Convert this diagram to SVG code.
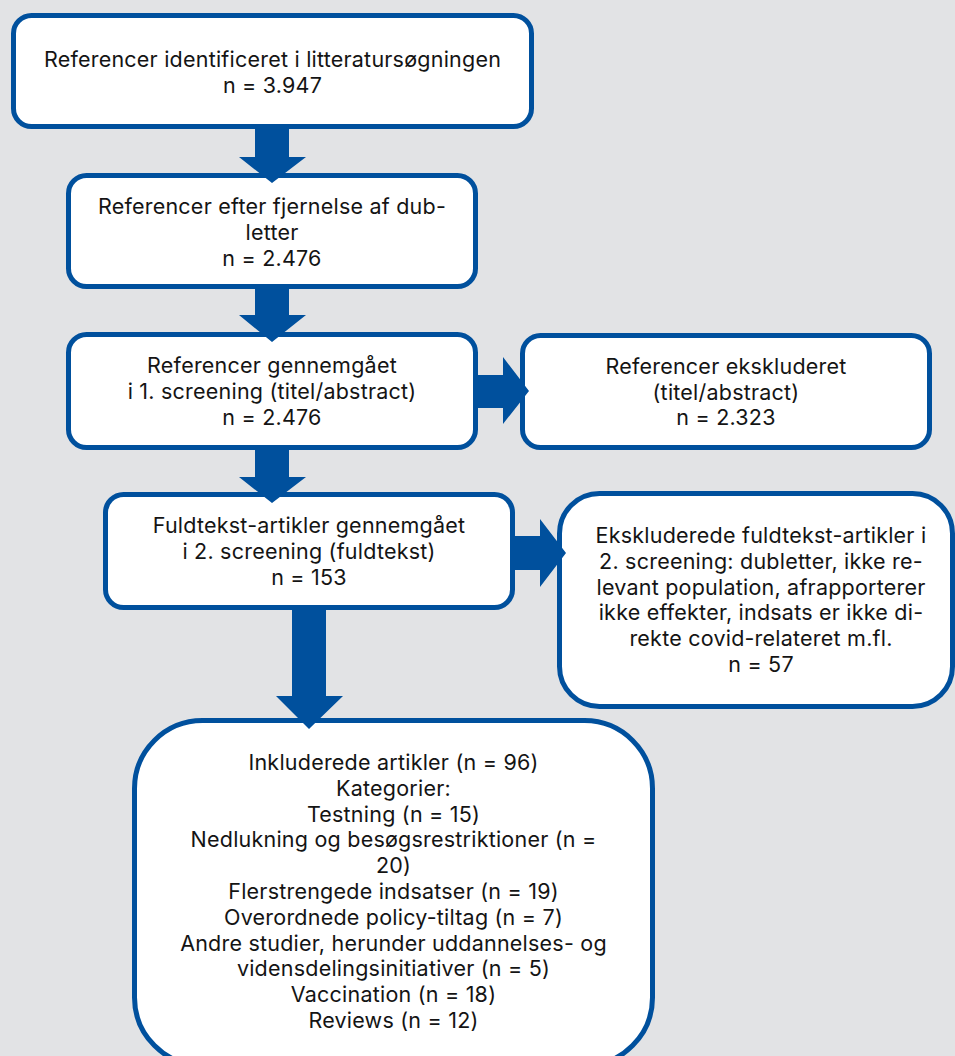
<svg xmlns="http://www.w3.org/2000/svg" width="955" height="1056" viewBox="0 0 955 1056">
<style>
.box{fill:#ffffff;stroke:#00509d;stroke-width:5}
.arr{fill:#00509d}
text{font-family:Inter,"Liberation Sans",Arial,sans-serif;font-size:21.5px;letter-spacing:0.22px;fill:#141414;text-anchor:middle}
</style>
<rect x="0" y="0" width="955" height="1056" fill="#e2e3e5"/>
<g id="n1">
<rect class="box" x="13.5" y="15.5" width="518" height="111" rx="18"/>
<text x="272.5" y="67">Referencer identificeret i litteratursøgningen</text>
<text x="272.5" y="93">n = 3.947</text>
</g>
<g id="n2">
<rect class="box" x="68.5" y="175.5" width="407" height="111" rx="18"/>
<text x="272" y="214">Referencer efter fjernelse af dub-</text>
<text x="272" y="240">letter</text>
<text x="272" y="266">n = 2.476</text>
</g>
<g id="n3">
<rect class="box" x="68.5" y="334.5" width="407" height="113" rx="18"/>
<text x="272" y="373">Referencer gennemgået</text>
<text x="272" y="399">i 1. screening (titel/abstract)</text>
<text x="272" y="425">n = 2.476</text>
</g>
<g id="n4">
<rect class="box" x="522.5" y="335.5" width="407" height="112" rx="18"/>
<text x="726" y="374">Referencer ekskluderet</text>
<text x="726" y="400">(titel/abstract)</text>
<text x="726" y="425">n = 2.323</text>
</g>
<g id="n5">
<rect class="box" x="105.5" y="494.5" width="407" height="113" rx="18"/>
<text x="309" y="533">Fuldtekst-artikler gennemgået</text>
<text x="309" y="559">i 2. screening (fuldtekst)</text>
<text x="309" y="585">n = 153</text>
</g>
<g id="n6">
<rect class="box" x="559.5" y="493.5" width="393" height="213" rx="40"/>
<text x="761" y="543">Ekskluderede fuldtekst-artikler i</text>
<text x="761" y="569">2. screening: dubletter, ikke re-</text>
<text x="761" y="595">levant population, afrapporterer</text>
<text x="761" y="620">ikke effekter, indsats er ikke di-</text>
<text x="761" y="646">rekte covid-relateret m.fl.</text>
<text x="761" y="672">n = 57</text>
</g>
<g id="n7">
<rect class="box" x="134.5" y="720.5" width="518" height="345" rx="68"/>
<text x="393.5" y="770">Inkluderede artikler (n = 96)</text>
<text x="393.5" y="796">Kategorier:</text>
<text x="393.5" y="822">Testning (n = 15)</text>
<text x="393.5" y="847">Nedlukning og besøgsrestriktioner (n =</text>
<text x="393.5" y="873">20)</text>
<text x="393.5" y="899">Flerstrengede indsatser (n = 19)</text>
<text x="393.5" y="925">Overordnede policy-tiltag (n = 7)</text>
<text x="393.5" y="951">Andre studier, herunder uddannelses- og</text>
<text x="393.5" y="976">vidensdelingsinitiativer (n = 5)</text>
<text x="393.5" y="1002">Vaccination (n = 18)</text>
<text x="393.5" y="1028">Reviews (n = 12)</text>
</g>
<g id="connectors">
<polygon class="arr" points="255,128 289,128 289,157 306,157 272,183 239,157 255,157"/>
<polygon class="arr" points="255,288 289,288 289,315 306,315 272,342 239,315 255,315"/>
<polygon class="arr" points="255,449 289,449 289,477 306,477 272,503 239,477 255,477"/>
<polygon class="arr" points="292,609 326,609 326,696 343,696 309,729 276,696 292,696"/>
<polygon class="arr" points="477,375 503,375 503,357 529,391 503,424 503,408 477,408"/>
<polygon class="arr" points="514,536 540,536 540,519 566,553 540,587 540,570 514,570"/>
</g>
</svg>
